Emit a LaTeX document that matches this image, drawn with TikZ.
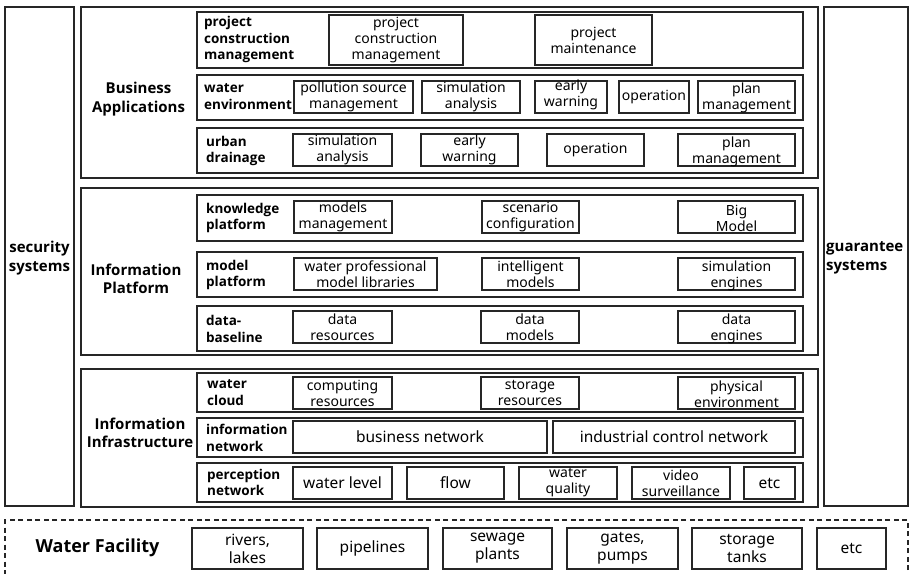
\documentclass[tikz,border=0pt]{standalone}
\usepackage{fontspec}
\setmainfont{Noto Sans}
\newfontfamily\hbf{Open Sans}
\usetikzlibrary{fit}
\begin{document}
\begin{tikzpicture}[x=1pt,y=-1pt,
  outerbox/.style={draw=black!85,line width=1.6pt,inner sep=0pt},
  rowbox/.style={draw=black!85,line width=1.5pt,inner sep=0pt},
  ib/.style={draw=black!85,line width=1.3pt,inner sep=0pt},
  tx/.style={align=center,inner sep=0pt,font=\fontsize{14}{16}\selectfont},
  txl/.style={align=center,inner sep=0pt,font=\fontsize{15.5}{18}\selectfont},
  rowlbl/.style={anchor=west,align=left,inner sep=0pt,font=\hbf\bfseries\fontsize{13.5}{16.5}\selectfont},
  grplbl/.style={align=center,inner sep=0pt,font=\hbf\bfseries\fontsize{15}{18.5}\selectfont}
]
\useasboundingbox (0,0) rectangle (909,573);
\clip (0,0) rectangle (909,573);
\fill[white] (0,0) rectangle (909,573);

% side boxes
\node[outerbox,fit={(5,7)(74,506)}] (secbox) {};
\node[grplbl] (sec) at (39.5,258) {security\\systems};
\node[outerbox,fit={(824,7)(908,506)}] (guabox) {};
\node[grplbl,anchor=west,align=left] (gua) at (826,258) {guarantee\\systems};

% Business Applications
\node[outerbox,fit={(81,7)(818,178)}] (babox) {};
\node[grplbl] (ba) at (138.5,99) {Business\\Applications};
\node[rowbox,fit={(197,12)(803,68)}] (r1) {};
\node[rowlbl] (r1l) at (204,39.5) {project\\construction\\management};
\node[ib,fit={(329,15)(463,65)}] (pcm) {};
\node[tx] (pcmt) at (pcm) {project\\construction\\management};
\node[ib,fit={(535,15)(652,65)}] (pm) {};
\node[tx] (pmt) at (pm) {project\\maintenance};
\node[rowbox,fit={(197,75)(803,120)}] (r2) {};
\node[rowlbl] (r2l) at (204,96.5) {water\\environment};
\node[ib,fit={(294,81)(413,113)}] (psm) {};
\node[tx] (psmt) at (psm) {pollution source\\management};
\node[ib,fit={(422,81)(520,113)}] (sa1) {};
\node[tx] (sa1t) at (sa1) {simulation\\analysis};
\node[ib,fit={(535,81)(607,113)}] (ew1) {};
\node[tx] (ew1t) at ([yshift=2.5pt]ew1.center) {early\\warning};
\node[ib,fit={(619,81)(689,113)}] (op1) {};
\node[tx] (op1t) at (op1) {operation};
\node[ib,fit={(698,81)(795,113)}] (plm1) {};
\node[tx] (plm1t) at ([yshift=-1pt]plm1.center) {plan\\management};
\node[rowbox,fit={(197,128)(803,173)}] (r3) {};
\node[rowlbl] (r3l) at (206,151) {urban\\drainage};
\node[ib,fit={(293,134)(392,166)}] (sa2) {};
\node[tx] (sa2t) at (sa2) {simulation\\analysis};
\node[ib,fit={(421,134)(518,166)}] (ew2) {};
\node[tx] (ew2t) at (ew2) {early\\warning};
\node[ib,fit={(547,134)(644,166)}] (op2) {};
\node[tx] (op2t) at (op2) {operation};
\node[ib,fit={(678,134)(795,166)}] (plm2) {};
\node[tx] (plm2t) at ([yshift=-1.5pt]plm2.center) {plan\\management};

% Information Platform
\node[outerbox,fit={(81,188)(818,355)}] (ipbox) {};
\node[grplbl] (ip) at (136,279) {Information\\Platform};
\node[rowbox,fit={(197,195)(803,241)}] (r4) {};
\node[rowlbl] (r4l) at (206,218) {knowledge\\platform};
\node[ib,fit={(294,201)(392,233)}] (mm) {};
\node[tx] (mmt) at (mm) {models\\management};
\node[ib,fit={(482,201)(579,233)}] (sc) {};
\node[tx] (sct) at (sc) {scenario\\configuration};
\node[ib,fit={(678,201)(795,233)}] (bm) {};
\node[tx] (bmt) at ([yshift=-1.5pt]bm.center) {Big\\Model};
\node[rowbox,fit={(197,252)(803,297)}] (r5) {};
\node[rowlbl] (r5l) at (206,275) {model\\platform};
\node[ib,fit={(294,258)(437,290)}] (wp) {};
\node[tx] (wpt) at (wp) {water professional\\model libraries};
\node[ib,fit={(482,258)(579,290)}] (im) {};
\node[tx] (imt) at (im) {intelligent\\models};
\node[ib,fit={(678,258)(795,290)}] (se) {};
\node[tx] (set) at ([yshift=-1.5pt]se.center) {simulation\\engines};
\node[rowbox,fit={(197,306)(803,351)}] (r6) {};
\node[rowlbl] (r6l) at (206,329) {data-\\baseline};
\node[ib,fit={(293,311)(392,343)}] (dr) {};
\node[tx] (drt) at (dr) {data\\resources};
\node[ib,fit={(481,311)(579,343)}] (dm) {};
\node[tx] (dmt) at (dm) {data\\models};
\node[ib,fit={(678,311)(795,343)}] (de) {};
\node[tx] (det) at ([yshift=-1.5pt]de.center) {data\\engines};

% Information Infrastructure
\node[outerbox,fit={(81,369)(818,507)}] (iibox) {};
\node[grplbl] (ii) at (140,433) {Information\\Infrastructure};
\node[rowbox,fit={(197,373)(803,412)}] (r7) {};
\node[rowlbl] (r7l) at (207,392.5) {water\\cloud};
\node[ib,fit={(293,377)(392,409)}] (cr) {};
\node[tx] (crt) at (cr) {computing\\resources};
\node[ib,fit={(481,377)(579,409)}] (sr) {};
\node[tx] (srt) at (sr) {storage\\resources};
\node[ib,fit={(678,377)(795,409)}] (pe) {};
\node[tx] (pet) at ([yshift=-1pt]pe.center) {physical\\environment};
\node[rowbox,fit={(197,418)(803,457)}] (r8) {};
\node[rowlbl] (r8l) at (206,438) {information\\network};
\node[ib,fit={(293,421)(547,453)}] (bn) {};
\node[txl] (bnt) at (bn) {business network};
\node[ib,fit={(553,421)(795,453)}] (icn) {};
\node[txl] (icnt) at (icn) {industrial control network};
\node[rowbox,fit={(197,463)(803,502)}] (r9) {};
\node[rowlbl] (r9l) at (207,482.5) {perception\\network};
\node[ib,fit={(293,467)(392,499)}] (wl) {};
\node[txl] (wlt) at (wl) {water level};
\node[ib,fit={(407,467)(504,499)}] (fl) {};
\node[txl] (flt) at (fl) {flow};
\node[ib,fit={(519,467)(617,499)}] (wq) {};
\node[tx] (wqt) at (wq) {water\\quality};
\node[ib,fit={(632,467)(730,499)}] (vs) {};
\node[tx] (vst) at (vs) {video\\surveillance};
\node[ib,fit={(744,467)(795,499)}] (etc1) {};
\node[txl] (etc1t) at (etc1) {etc};

% Water Facility
\node[draw=black!85,line width=1.3pt,dash pattern=on 5pt off 3.5pt,inner sep=0pt,fit={(5,520)(908,585)}] (wfbox) {};
\node[grplbl,font=\hbf\bfseries\fontsize{18}{20}\selectfont] (wf) at (97.5,547.5) {Water Facility};
\node[ib,fit={(192,528)(303,569)}] (rl) {};
\node[txl] (rlt) at (rl) {rivers,\\lakes};
\node[ib,fit={(317,528)(428,569)}] (pl) {};
\node[txl] (plt) at (pl) {pipelines};
\node[ib,fit={(443,528)(552,569)}] (sp) {};
\node[txl] (spt) at (sp) {sewage\\plants};
\node[ib,fit={(567,528)(678,569)}] (gp) {};
\node[txl] (gpt) at (gp) {gates,\\pumps};
\node[ib,fit={(692,528)(802,569)}] (st) {};
\node[txl] (stt) at (st) {storage\\tanks};
\node[ib,fit={(817,528)(886,569)}] (etc2) {};
\node[txl] (etc2t) at (etc2) {etc};
\end{tikzpicture}
\end{document}
